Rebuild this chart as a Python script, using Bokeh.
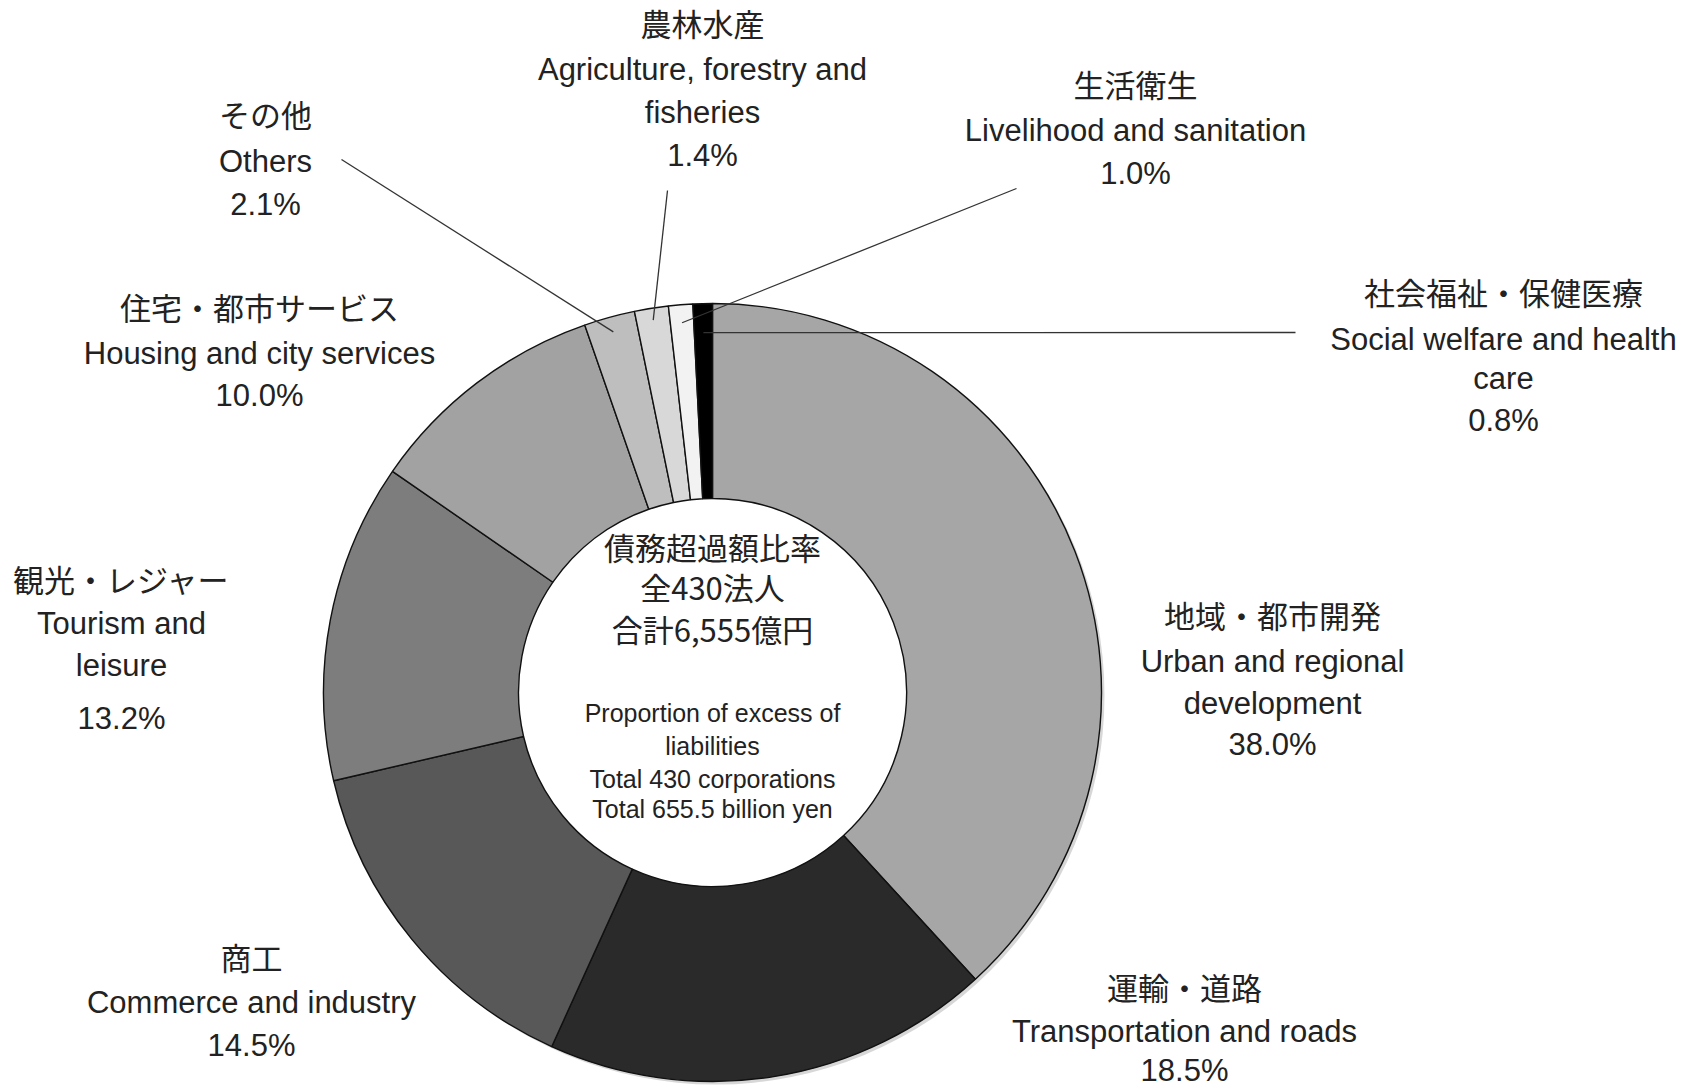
import math
from bokeh.plotting import figure
from bokeh.models import ColumnDataSource, Range1d
from bokeh.core.properties import value
from bokeh.embed import file_html
from bokeh.resources import INLINE

# ---------------- data ----------------
categories_jp = ["地域・都市開発", "運輸・道路", "商工", "観光・レジャー", "住宅・都市サービス",
                 "その他", "農林水産", "生活衛生", "社会福祉・保健医療"]
categories_en = [["Urban and regional", "development"],
                 ["Transportation and roads"],
                 ["Commerce and industry"],
                 ["Tourism and", "leisure"],
                 ["Housing and city services"],
                 ["Others"],
                 ["Agriculture, forestry and", "fisheries"],
                 ["Livelihood and sanitation"],
                 ["Social welfare and health", "care"]]
values = [38.0, 18.5, 14.5, 13.2, 10.0, 2.1, 1.4, 1.0, 0.8]
slice_colors = ["#a6a6a6", "#2a2a2a", "#585858", "#7d7d7d", "#a2a2a2",
                "#bebebe", "#d8d8d8", "#f2f2f2", "#000000"]
center_jp = ["債務超過額比率", "全430法人", "合計6,555億円"]
center_en = ["Proportion of excess of", "liabilities", "Total 430 corporations", "Total 655.5 billion yen"]

# ---------------- layout ----------------
W, H = 1695, 1090
def Y(y):
    return H - y

CX, CYr = 712, 692
R_OUT, R_IN = 389, 194
JP_SHIFT = -4

label_x = [1272, 1184, 251, 121, 259, 265, 702, 1135, 1503]
label_ys = [[618, 661, 703, 744],
            [990, 1031, 1070],
            [960, 1002, 1045],
            [582, 623, 665, 718],
            [310, 353, 395],
            [117, 161, 204],
            [26, 69, 112, 155],
            [87, 130, 173],
            [295, 339, 378, 420]]
center_jp_ys = [550, 590, 632]
center_en_ys = [712, 745, 778, 808]

# leader lines: slice index, leader radius, outer end point
leaders = [(5, 374, (341, 159)),
           (6, 377, (667, 190)),
           (7, 371, (1016, 188)),
           (8, 360, (1295, 332))]

p = figure(width=W, height=H, x_range=Range1d(0, W), y_range=Range1d(0, H),
           output_backend="svg", toolbar_location=None, x_axis_type=None, y_axis_type=None,
           min_border=0, outline_line_color=None)
p.background_fill_color = "white"
p.border_fill_color = "white"

total = sum(values)
cum = [0.0]
for v in values:
    cum.append(cum[-1] + v)

starts, ends = [], []
for i, v in enumerate(values):
    a_end = math.pi / 2 - 2 * math.pi * cum[i] / total
    a_start = math.pi / 2 - 2 * math.pi * cum[i + 1] / total
    starts.append(a_start)
    ends.append(a_end)

# subtle shadow
p.annular_wedge(x=CX + 3, y=Y(CYr) - 3, inner_radius=300, outer_radius=R_OUT,
                start_angle=0, end_angle=2 * math.pi, fill_color="#bdbdbd",
                fill_alpha=0.6, line_color=None)

src = ColumnDataSource(dict(start=starts, end=ends, color=slice_colors))
p.annular_wedge(x=CX, y=Y(CYr), inner_radius=R_IN, outer_radius=R_OUT,
                start_angle="start", end_angle="end", fill_color="color",
                line_color="#111111", line_width=1.4, source=src)

# leader lines
x0, y0, x1, y1 = [], [], [], []
for idx, rl, (ox, oy) in leaders:
    mid = 2 * math.pi * (cum[idx] + values[idx] / 2) / total
    x0.append(CX + rl * math.sin(mid))
    y0.append(Y(CYr - rl * math.cos(mid)))
    x1.append(ox)
    y1.append(Y(oy))
p.segment(x0=x0, y0=y0, x1=x1, y1=y1, line_color="#333333", line_width=1.3)

# labels
jp_x, jp_y, jp_t = [], [], []
en_x, en_y, en_t = [], [], []
for i in range(len(values)):
    lines = [categories_jp[i]] + categories_en[i] + [f"{values[i]:.1f}%"]
    for k, (txt, yy) in enumerate(zip(lines, label_ys[i])):
        if k == 0:
            jp_x.append(label_x[i]); jp_y.append(Y(yy + JP_SHIFT)); jp_t.append(txt)
        else:
            en_x.append(label_x[i]); en_y.append(Y(yy)); en_t.append(txt)

for txt, yy in zip(center_jp, center_jp_ys):
    jp_x.append(CX); jp_y.append(Y(yy + JP_SHIFT)); jp_t.append(txt)

TXT = "#222222"
p.text(x=jp_x, y=jp_y, text=jp_t, text_align="center", text_baseline="middle",
       text_font=value("Noto Sans CJK JP"), text_font_size=value("31px"), text_color=TXT)
p.text(x=en_x, y=en_y, text=en_t, text_align="center", text_baseline="middle",
       text_font=value("Liberation Sans"), text_font_size=value("31px"), text_color=TXT)
p.text(x=[CX] * len(center_en), y=[Y(v) for v in center_en_ys], text=center_en,
       text_align="center", text_baseline="middle",
       text_font=value("Liberation Sans"), text_font_size=value("25px"), text_color=TXT)

open("out.html", "w").write(file_html(p, INLINE))
